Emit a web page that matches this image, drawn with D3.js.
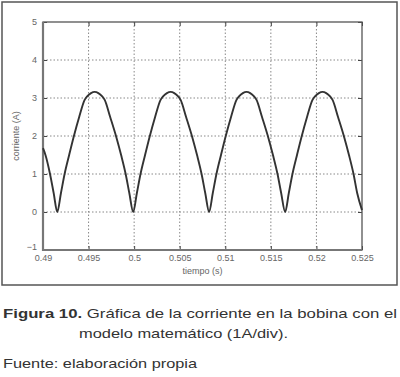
<!DOCTYPE html>
<html><head><meta charset="utf-8">
<script src="https://cdn.jsdelivr.net/npm/d3@7"></script>
<style>
html,body{margin:0;padding:0;background:#fff;}
svg{display:block;}
</style></head>
<body>
<script>
// Data
const timeValues = [
  0.49000,0.49027,0.49077,0.49117,0.49157,
  0.49197,0.49237,0.49287,0.49337,0.49397,0.49457,0.49487,0.49527,0.49567,0.49607,0.49647,0.49677,0.49737,0.49807,0.49857,0.49907,0.49947,0.49990,
  0.50030,0.50070,0.50120,0.50170,0.50230,0.50290,0.50320,0.50360,0.50400,0.50440,0.50480,0.50510,0.50570,0.50640,0.50690,0.50740,0.50780,0.50823,
  0.50863,0.50903,0.50953,0.51003,0.51063,0.51123,0.51153,0.51193,0.51233,0.51273,0.51313,0.51343,0.51403,0.51473,0.51523,0.51573,0.51613,0.51657,
  0.51697,0.51737,0.51787,0.51837,0.51897,0.51957,0.51987,0.52027,0.52067,0.52107,0.52147,0.52177,0.52237,0.52307,0.52357,0.52407,0.52447,0.52500
];
const currentValues = [
  1.68,1.5,1.0,0.5,0,
  0.5,1.0,1.5,1.98,2.5,2.95,3.05,3.13,3.16,3.13,3.05,2.95,2.5,1.95,1.5,1.0,0.5,0,
  0.5,1.0,1.5,1.98,2.5,2.95,3.05,3.13,3.16,3.13,3.05,2.95,2.5,1.95,1.5,1.0,0.5,0,
  0.5,1.0,1.5,1.98,2.5,2.95,3.05,3.13,3.16,3.13,3.05,2.95,2.5,1.95,1.5,1.0,0.5,0,
  0.5,1.0,1.5,1.98,2.5,2.95,3.05,3.13,3.16,3.13,3.05,2.95,2.5,1.95,1.5,1.0,0.5,0.05
];
const xTicks = [0.49,0.495,0.5,0.505,0.51,0.515,0.52,0.525];
const xTickLabels = ["0.49","0.495","0.5","0.505","0.51","0.515","0.52","0.525"];
const yTicks = [-1,0,1,2,3,4,5];
const xLabel = "tiempo (s)";
const yLabel = "corriente (A)";
const captionBold = "Figura 10.";
const captionRest = " Gráfica de la corriente en la bobina con el";
const captionLine2 = "modelo matemático (1A/div).";
const sourceText = "Fuente: elaboración propia";

const W = 400, H = 377;
const svg = d3.select("body").append("svg").attr("width", W).attr("height", H);

// outer frame
svg.append("rect").attr("x",2).attr("y",2).attr("width",395).attr("height",283)
  .attr("fill","none").attr("stroke","#555").attr("stroke-width",1.5);

const plot = {left:43, right:362, top:22, bottom:250};
const x = d3.scaleLinear().domain([0.49,0.525]).range([plot.left, plot.right]);
const y = d3.scaleLinear().domain([-1,5]).range([plot.bottom, plot.top]);

const g = svg.append("g");

// grid
g.append("g").selectAll("line").data(xTicks.slice(1,-1)).join("line")
  .attr("x1",d=>x(d)).attr("x2",d=>x(d)).attr("y1",plot.top).attr("y2",plot.bottom)
  .attr("stroke","#888").attr("stroke-width",1).attr("stroke-dasharray","1.5,2");
g.append("g").selectAll("line").data(yTicks.slice(1,-1)).join("line")
  .attr("y1",d=>y(d)).attr("y2",d=>y(d)).attr("x1",plot.left).attr("x2",plot.right)
  .attr("stroke","#888").attr("stroke-width",1).attr("stroke-dasharray","1.5,2");

// axes
const fontFam = "'Liberation Sans', Arial, sans-serif";
const xAxis = d3.axisBottom(x).tickValues(xTicks).tickFormat((d,i)=>xTickLabels[i]).tickSizeInner(-4).tickSizeOuter(0).tickPadding(5);
const yAxis = d3.axisLeft(y).tickValues(yTicks).tickFormat(d3.format("d")).tickSizeInner(-4).tickSizeOuter(0).tickPadding(6);
const xa = g.append("g").attr("transform",`translate(0,${plot.bottom})`).call(xAxis);
const ya = g.append("g").attr("transform",`translate(${plot.left},0)`).call(yAxis);
const xTop = d3.axisTop(x).tickValues(xTicks).tickFormat("").tickSizeInner(-4).tickSizeOuter(0);
const yRight = d3.axisRight(y).tickValues(yTicks).tickFormat("").tickSizeInner(-4).tickSizeOuter(0);
const xt = g.append("g").attr("transform",`translate(0,${plot.top})`).call(xTop);
const yr = g.append("g").attr("transform",`translate(${plot.right},0)`).call(yRight);
[xa,ya,xt,yr].forEach(a=>{
  a.select(".domain").remove();
  a.selectAll(".tick line").attr("stroke","#444").attr("stroke-width",1);
  a.selectAll("text").attr("fill","#666").attr("font-family",fontFam).attr("font-size",9);
});
ya.selectAll(".tick text").attr("dy","0.32em");
ya.selectAll(".tick").filter(d=>d===-1).select("text").attr("dy","-0.1em");

// box
g.append("rect").attr("x",plot.left).attr("y",plot.top)
  .attr("width",plot.right-plot.left).attr("height",plot.bottom-plot.top)
  .attr("fill","none").attr("stroke","#555").attr("stroke-width",1.3);
g.append("line").attr("x1",plot.left).attr("x2",plot.left).attr("y1",plot.top).attr("y2",plot.bottom+1)
  .attr("stroke","#777").attr("stroke-width",2.2);
g.append("line").attr("x1",plot.left).attr("x2",plot.right).attr("y1",plot.bottom).attr("y2",plot.bottom)
  .attr("stroke","#777").attr("stroke-width",2.2);

// data line
const data = timeValues.map((t,i)=>({t, v: currentValues[i]}));
g.append("path").datum(data)
  .attr("d", d3.line().x(d=>x(d.t)).y(d=>y(d.v)).curve(d3.curveMonotoneX))
  .attr("fill","none").attr("stroke","#333").attr("stroke-width",1.9).attr("stroke-linejoin","round");

// labels
svg.append("text").attr("x",(plot.left+plot.right)/2).attr("y",274).attr("text-anchor","middle")
  .attr("font-family",fontFam).attr("font-size",9).attr("fill","#666").text(xLabel);
svg.append("text").attr("transform",`translate(19,${(plot.top+plot.bottom)/2}) rotate(-90)`)
  .attr("text-anchor","middle").attr("font-family",fontFam).attr("font-size",9).attr("fill","#666").text(yLabel);

// caption
const capFont = 13.3;
const cap = svg.append("text").attr("x",3).attr("y",318).attr("font-family",fontFam).attr("font-size",capFont).attr("fill","#333")
  .attr("textLength",394).attr("lengthAdjust","spacingAndGlyphs");
cap.append("tspan").attr("font-weight","bold").text(captionBold);
cap.append("tspan").text(captionRest);
svg.append("text").attr("x",79).attr("y",338).attr("font-family",fontFam).attr("font-size",capFont).attr("fill","#333")
  .attr("textLength",209).attr("lengthAdjust","spacingAndGlyphs").text(captionLine2);
svg.append("text").attr("x",3).attr("y",368).attr("font-family",fontFam).attr("font-size",capFont).attr("fill","#333")
  .attr("textLength",194).attr("lengthAdjust","spacingAndGlyphs").text(sourceText);
</script>
</body></html>
